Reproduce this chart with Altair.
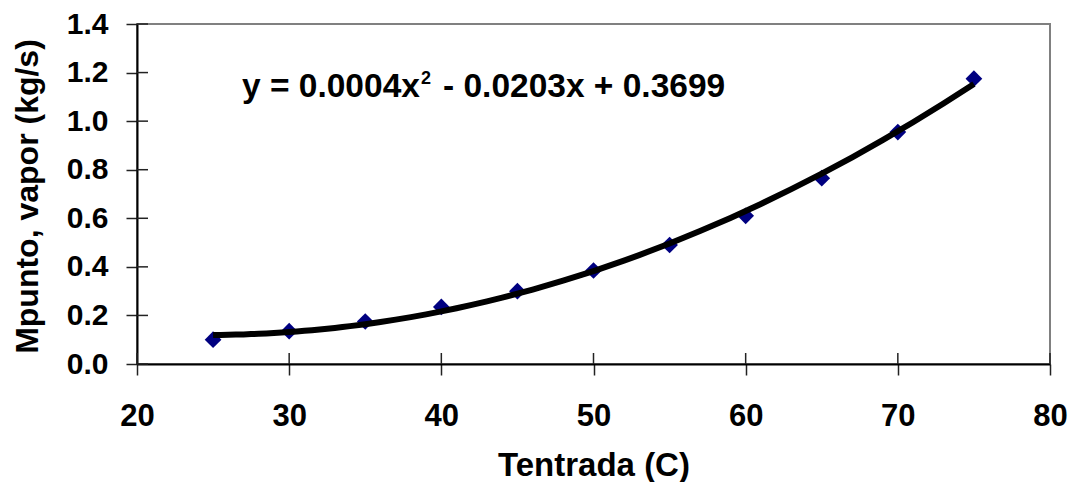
import altair as alt
import pandas as pd

# Data
temp = [25, 30, 35, 40, 45, 50, 55, 60, 65, 70, 75]
flow = [0.10, 0.135, 0.175, 0.235, 0.30, 0.385, 0.49, 0.61, 0.765, 0.955, 1.175]
x_ticks = [20, 30, 40, 50, 60, 70, 80]
y_ticks = [0.0, 0.2, 0.4, 0.6, 0.8, 1.0, 1.2, 1.4]

eq_main = "y = 0.0004x"
eq_sup = "2"
eq_rest = "- 0.0203x + 0.3699"

df = pd.DataFrame({"x": temp, "y": flow})
xt = pd.DataFrame({"x": x_ticks})
yt = pd.DataFrame({"y": y_ticks})

FONT = "Liberation Sans"
W, H = 913, 340
TICK = 11

xs = alt.Scale(domain=[20, 80], nice=False, zero=False)
ys = alt.Scale(domain=[0, 1.4], nice=False, zero=False)

x_axis = alt.Axis(
    values=x_ticks, format=".0f", grid=False, orient="bottom",
    domainColor="black", domainWidth=2, tickColor="#222222", tickWidth=1.5,
    tickSize=TICK, labelFont=FONT, labelFontSize=31, labelFontWeight="bold",
    labelColor="black", labelBaseline="alphabetic", labelPadding=50,
    labelFlush=False, labelOverlap=False,
    title="Tentrada (C)", titleFont=FONT, titleFontSize=33,
    titleFontWeight="bold", titleColor="black", titleX=W / 2, titleY=111,
    titleBaseline="alphabetic", titleAlign="center",
)
y_axis = alt.Axis(
    values=y_ticks, format=".1f", grid=False, orient="left",
    domainColor="black", domainWidth=2, tickColor="#222222", tickWidth=1.5,
    tickSize=TICK, labelFont=FONT, labelFontSize=30, labelFontWeight="bold",
    labelColor="black", labelPadding=18, labelBaseline="middle",
    labelFlush=False, labelOverlap=False,
    title="Mpunto, vapor (kg/s)", titleFont=FONT, titleFontSize=32,
    titleFontWeight="bold", titleColor="black", titleAngle=270,
    titleX=-110, titleY=172, titleBaseline="middle", titleAlign="center",
)

points = alt.Chart(df).mark_point(
    shape="diamond", filled=True, size=280, color="#000080", opacity=1, strokeWidth=0
).encode(
    x=alt.X("x:Q", scale=xs, axis=x_axis),
    y=alt.Y("y:Q", scale=ys, axis=y_axis),
)

trend = alt.Chart(df).transform_regression(
    "x", "y", method="poly", order=2
).mark_line(color="black", strokeWidth=6).encode(
    x=alt.X("x:Q", scale=xs),
    y=alt.Y("y:Q", scale=ys),
)

# inner halves of the crossing axis ticks
xin = alt.Chart(xt).mark_rule(color="#222222", strokeWidth=1.5).encode(
    x=alt.X("x:Q", scale=xs),
    y=alt.value(H - TICK), y2=alt.value(H),
)
yin = alt.Chart(yt).mark_rule(color="#222222", strokeWidth=1.5).encode(
    y=alt.Y("y:Q", scale=ys),
    x=alt.value(0), x2=alt.value(TICK),
)

ann = pd.DataFrame({
    "x": [26.9, 38.66, 40.11],
    "y": [1.10, 1.10, 1.10],
    "t": [eq_main, eq_sup, eq_rest],
    "part": ["a", "b", "c"],
})

def eq_layer(part, size, dy):
    return alt.Chart(ann).transform_filter(alt.datum.part == part).mark_text(
        font=FONT, fontSize=size, fontWeight="bold", color="black",
        align="left", baseline="alphabetic", dy=dy
    ).encode(
        x=alt.X("x:Q", scale=xs),
        y=alt.Y("y:Q", scale=ys),
        text="t:N",
    )

eq1 = eq_layer("a", 33.5, 0)
eq2 = eq_layer("b", 18, -13)
eq3 = eq_layer("c", 33.5, 0)

chart = alt.layer(points, xin, yin, trend, eq1, eq2, eq3).properties(
    width=W, height=H,
    autosize=alt.AutoSizeParams(type="none"),
    padding={"left": 129, "top": 16, "right": 18, "bottom": 118},
    background="white",
).configure_view(stroke="#808080", strokeWidth=2)

chart.save("out.html", embed_options={"renderer": "svg", "actions": False})
